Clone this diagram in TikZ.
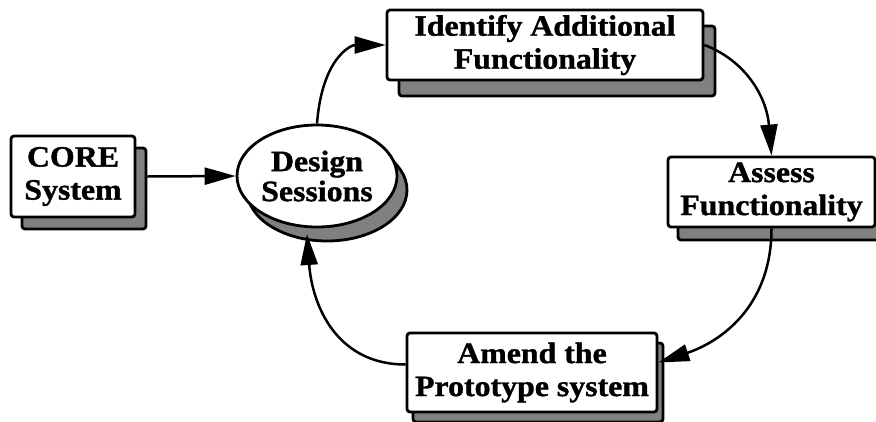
\documentclass[tikz,border=0pt]{standalone}
\usepackage{fontspec}
\setmainfont{Liberation Serif}[FakeStretch=1.08,FakeBold=1.2]
\usetikzlibrary{arrows.meta,shapes.geometric,shadows}
\definecolor{shadowgray}{HTML}{808080}
\begin{document}
\begin{tikzpicture}[x=1pt,y=-1pt,
  lbl/.style={font=\fontsize{29.5}{33}\selectfont\bfseries, align=center, inner sep=0pt},
  shad/.style 2 args={copy shadow={shadow xshift=#1pt, shadow yshift=-#2pt, fill=shadowgray, draw=black, line width=2.8pt}},
  box/.style={lbl, rectangle, draw=black, line width=2.8pt, fill=white, rounded corners=3pt},
  conn/.style={line width=2.5pt, -{Triangle[length=31pt,width=17pt]}},
]
\useasboundingbox (0,0) rectangle (876,421);

\node[box, shad={11}{12}, minimum width=124pt, minimum height=81pt] (core) at (73,176.5) {CORE\\System};
\node[lbl, ellipse, draw=black, line width=2.8pt, fill=white, minimum width=160pt, minimum height=102pt,
      shad={10}{14}, font=\fontsize{29.5}{30}\selectfont\bfseries] (design) at (317,176)
      {\makebox[0pt]{Design}\\\makebox[0pt]{Sessions}};
\node[box, shad={12}{16}, minimum width=316pt, minimum height=70pt] (identify) at (545,45) {Identify Additional\\Functionality};
\node[box, shad={10}{13}, minimum width=207pt, minimum height=70pt] (assess) at (771.5,192) {Assess\\Functionality};
\node[box, shad={6}{10}, minimum width=250pt, minimum height=79pt] (amend) at (532,372.5) {Amend the\\Prototype system};

\coordinate (coreout) at ([xshift=11pt]core.east);
\coordinate (amendin) at ([yshift=10pt]amend.east);
\coordinate (amendout) at ([yshift=8pt]amend.west);
\coordinate (designin) at ([shift={(-10,58)}]design.center);

\draw[conn] (coreout) -- (design.west);
\draw[conn] (design.north) .. controls +(5,-65) and +(-35,0) .. (identify.west);
\draw[conn] (identify.east) .. controls +(40,15) and +(-5,-60) .. (assess.north);
\draw[conn] (assess.south) .. controls +(0,80) and +(60,-20) .. (amendin);
\draw[conn] (amendout) .. controls +(-70,0) and +(5,70) .. (designin);
\end{tikzpicture}
\end{document}
